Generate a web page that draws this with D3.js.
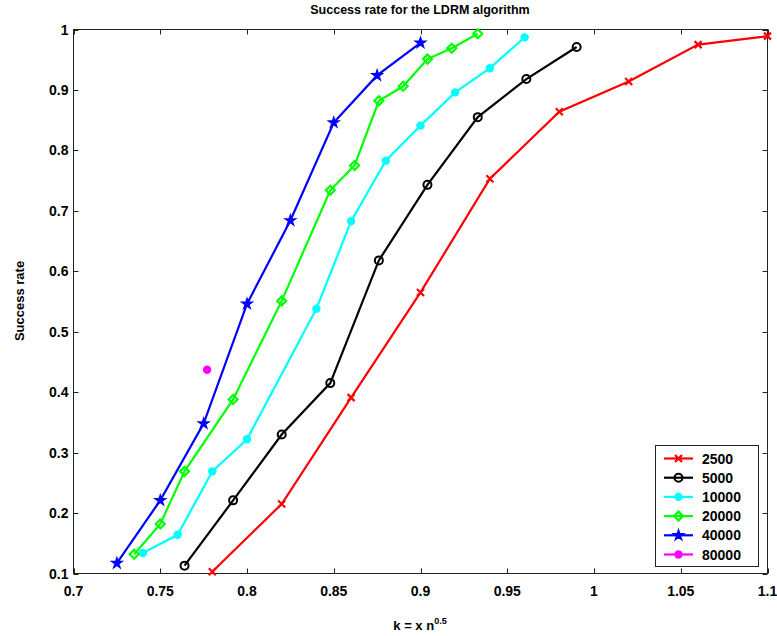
<!DOCTYPE html>
<html><head><meta charset="utf-8">
<script src="https://cdn.jsdelivr.net/npm/d3@7"></script>
<style>body{margin:0;background:#fff}svg{display:block}text{font-family:"Liberation Sans",Arial,sans-serif;font-weight:bold}</style>
</head><body>
<svg id="c" width="777" height="636"></svg>
<script>
const seriesNames = ["2500","5000","10000","20000","40000","80000"];
const seriesColors = ["#ff0000","#000000","#00ffff","#00ff00","#0000ff","#ff00ff"];
const seriesMarkers = ["x","circle","dot","diamond","star","dot"];
const x2500 = [0.78,0.82,0.86,0.90,0.94,0.98,1.02,1.06,1.10];
const y2500 = [0.103,0.215,0.391,0.565,0.753,0.864,0.914,0.975,0.989];
const x5000 = [0.764,0.792,0.82,0.848,0.876,0.904,0.933,0.961,0.99];
const y5000 = [0.113,0.221,0.330,0.415,0.618,0.743,0.855,0.918,0.971];
const x10000 = [0.74,0.76,0.78,0.80,0.84,0.86,0.88,0.90,0.92,0.94,0.96];
const y10000 = [0.134,0.164,0.269,0.322,0.538,0.683,0.783,0.841,0.896,0.936,0.987];
const x20000 = [0.735,0.75,0.764,0.792,0.82,0.848,0.862,0.876,0.89,0.904,0.918,0.933];
const y20000 = [0.132,0.182,0.269,0.388,0.551,0.734,0.775,0.882,0.906,0.951,0.969,0.993];
const x40000 = [0.725,0.75,0.775,0.80,0.825,0.85,0.875,0.90];
const y40000 = [0.117,0.221,0.348,0.546,0.684,0.846,0.924,0.978];
const x80000 = [0.777];
const y80000 = [0.437];
const xTicks = [0.7,0.75,0.8,0.85,0.9,0.95,1,1.05,1.1];
const yTicks = [0.1,0.2,0.3,0.4,0.5,0.6,0.7,0.8,0.9,1];
const titleText = "Success rate for the LDRM algorithm";
const yLabel = "Success rate";

const xs = [x2500,x5000,x10000,x20000,x40000,x80000];
const ys = [y2500,y5000,y10000,y20000,y40000,y80000];
const series = seriesNames.map((n,i)=>({name:n,color:seriesColors[i],marker:seriesMarkers[i],
  pts:xs[i].map((v,j)=>[v,ys[i][j]])}));

const L=73.5,R=767.5,T=29.5,B=573.5;
const x = d3.scaleLinear().domain([0.7,1.1]).range([L,R]);
const y = d3.scaleLinear().domain([0.1,1]).range([B,T]);
const svg = d3.select("#c");

svg.append("rect").attr("x",L).attr("y",T).attr("width",R-L).attr("height",B-T)
  .attr("fill","none").attr("stroke","#222").attr("stroke-width",1);
const tl=5;
const g = svg.append("g").attr("stroke","#222").attr("stroke-width",1);
xTicks.forEach(t=>{
  g.append("line").attr("x1",Math.round(x(t))+0.5).attr("x2",Math.round(x(t))+0.5).attr("y1",B).attr("y2",B-tl);
  g.append("line").attr("x1",Math.round(x(t))+0.5).attr("x2",Math.round(x(t))+0.5).attr("y1",T).attr("y2",T+tl);
});
yTicks.forEach(t=>{
  g.append("line").attr("y1",Math.round(y(t))+0.5).attr("y2",Math.round(y(t))+0.5).attr("x1",L).attr("x2",L+tl);
  g.append("line").attr("y1",Math.round(y(t))+0.5).attr("y2",Math.round(y(t))+0.5).attr("x1",R).attr("x2",R-tl);
});
const fmt = d=>String(+d.toFixed(2));
svg.append("g").selectAll("text").data(xTicks).join("text")
  .attr("x",d=>x(d)).attr("y",B+22).attr("text-anchor","middle").attr("font-size",14).text(fmt);
svg.append("g").selectAll("text").data(yTicks).join("text")
  .attr("x",L-5).attr("y",d=>y(d)+5).attr("text-anchor","end").attr("font-size",14).text(fmt);

svg.append("text").attr("x",420).attr("y",14).attr("text-anchor","middle").attr("font-size",12.5).text(titleText);
svg.append("text").attr("transform","translate(24,301) rotate(-90)").attr("text-anchor","middle").attr("font-size",13).text(yLabel);
const xl = svg.append("text").attr("x",420).attr("y",630).attr("text-anchor","middle").attr("font-size",13);
xl.append("tspan").text("k = x n");
xl.append("tspan").attr("dy",-6).attr("font-size",9).text("0.5");

function drawMarker(sel,m,color,cx,cy){
  if(m==="x"){
    const s=3.5;
    sel.append("path").attr("d",`M${cx-s},${cy-s}L${cx+s},${cy+s}M${cx-s},${cy+s}L${cx+s},${cy-s}`)
      .attr("stroke",color).attr("stroke-width",2.2).attr("fill","none");
  } else if(m==="circle"){
    sel.append("circle").attr("cx",cx).attr("cy",cy).attr("r",4).attr("fill","none").attr("stroke",color).attr("stroke-width",2);
  } else if(m==="dot"){
    sel.append("circle").attr("cx",cx).attr("cy",cy).attr("r",4.2).attr("fill",color);
  } else if(m==="diamond"){
    const s=4.5;
    sel.append("path").attr("d",`M${cx},${cy-s}L${cx+s},${cy}L${cx},${cy+s}L${cx-s},${cy}Z`)
      .attr("fill","none").attr("stroke",color).attr("stroke-width",2.2);
  } else if(m==="star"){
    sel.append("path").attr("d",d3.symbol(d3.symbolStar,22)()).attr("transform",`translate(${cx},${cy})`)
      .attr("fill",color).attr("stroke",color).attr("stroke-width",2);
  }
}

const line = d3.line().x(d=>x(d[0])).y(d=>y(d[1]));
series.forEach(s=>{
  const gg = svg.append("g");
  if(s.pts.length>1) gg.append("path").attr("d",line(s.pts)).attr("fill","none").attr("stroke",s.color).attr("stroke-width",2.2);
  s.pts.forEach(p=>drawMarker(gg,s.marker,s.color,x(p[0]),y(p[1])));
});

const lg = svg.append("g");
lg.append("rect").attr("x",655.5).attr("y",445.5).attr("width",103).attr("height",121).attr("fill","#fff").attr("stroke","#222");
series.forEach((s,i)=>{
  const cy = 458.5 + i*19.2;
  lg.append("line").attr("x1",664).attr("x2",693).attr("y1",cy).attr("y2",cy).attr("stroke",s.color).attr("stroke-width",2.2);
  drawMarker(lg,s.marker,s.color,678.5,cy);
  lg.append("text").attr("x",702).attr("y",cy+5).attr("font-size",14).text(s.name);
});
</script>
</body></html>
